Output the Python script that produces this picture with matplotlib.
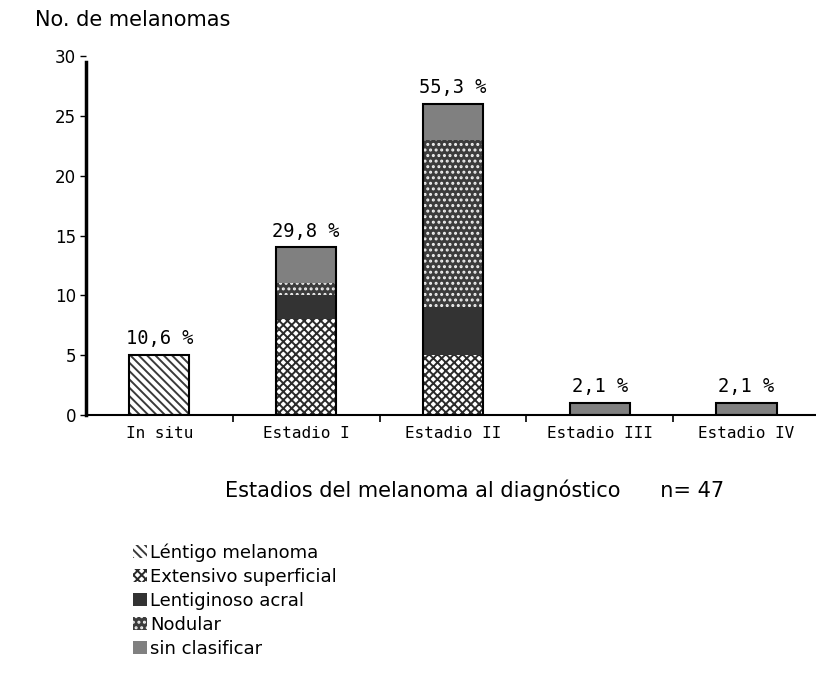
import numpy as np
import matplotlib
matplotlib.use("Agg")
import matplotlib.pyplot as plt
from matplotlib.patches import Patch

# data
stages = ["In situ", "Estadio I", "Estadio II", "Estadio III", "Estadio IV"]
lentigo = [5, 0, 0, 0, 0]
extensivo = [0, 8, 5, 0, 0]
acral = [0, 2, 4, 0, 0]
nodular = [0, 1, 14, 0, 0]
sin_clasificar = [0, 3, 3, 1, 1]
percent_labels = ["10,6 %", "29,8 %", "55,3 %", "2,1 %", "2,1 %"]
series_names = ["Léntigo melanoma", "Extensivo superficial", "Lentiginoso acral",
                "Nodular", "sin clasificar"]

plt.rcParams["hatch.linewidth"] = 1.4

# (facecolor, hatch colour, hatch)
styles = [
    ("white", "#3a3a3a", "\\\\\\\\"),
    ("white", "#2a2a2a", "xxxx"),
    ("#333333", "#333333", None),
    ("#3c3c3c", "#f0f0f0", "..."),
    ("#808080", "#808080", None),
]

fig = plt.figure(figsize=(8.16, 6.95), dpi=100)
ax = fig.add_axes([0.1054, 0.4029, 0.8993, 0.5165])

x = np.arange(len(stages))
width = 0.41
series = [lentigo, extensivo, acral, nodular, sin_clasificar]
bottom = np.zeros(len(stages))
for vals, (fc, hc, h) in zip(series, styles):
    vals = np.array(vals, dtype=float)
    ax.bar(x, vals, width, bottom=bottom, facecolor=fc, edgecolor=hc,
           hatch=h, linewidth=0)
    bottom += vals

# outline around the whole stack
ax.bar(x, bottom, width, fill=False, edgecolor="black", linewidth=1.5)

for xi, tot, lab in zip(x, bottom, percent_labels):
    ax.annotate(lab, (xi, tot), xytext=(0, 5), textcoords="offset points",
                ha="center", va="bottom", fontsize=13.5, family="DejaVu Sans Mono")

ax.set_xlim(-0.5, len(stages) - 0.5)
ax.set_ylim(0, 30)
ax.set_yticks(range(0, 31, 5))
ax.set_xticks(x)
ax.set_xticklabels(stages, family="DejaVu Sans Mono", fontsize=11.5)
ax.set_xticks(np.arange(0.5, len(stages) - 0.5, 1), minor=True)
ax.tick_params(axis="x", which="major", length=0, pad=8)
ax.tick_params(axis="x", which="minor", length=5, width=1.2, direction="out")
ax.tick_params(axis="y", length=4, width=1, direction="out", labelsize=12, pad=3)

for s in ["top", "right"]:
    ax.spines[s].set_visible(False)
ax.spines["left"].set_linewidth(2.5)
ax.spines["left"].set_bounds(0, 29.5)
ax.spines["bottom"].set_linewidth(1.5)

fig.text(35 / 816, 1 - 20 / 695, "No. de melanomas", fontsize=15,
         ha="left", va="center")
fig.text(475 / 816, 1 - 490 / 695,
         "Estadios del melanoma al diagnóstico      n= 47",
         fontsize=15, ha="center", va="center")

handles = [Patch(facecolor=fc, edgecolor=hc, hatch=h, linewidth=0)
           for fc, hc, h in styles]
fig.legend(handles, series_names, loc="upper left",
           bbox_to_anchor=(126 / 816, 1 - 536 / 695), frameon=False,
           fontsize=13, handlelength=0.75, handleheight=0.75,
           handletextpad=0.2, labelspacing=0.33, borderaxespad=0)

fig.savefig("out.png", dpi=100)
